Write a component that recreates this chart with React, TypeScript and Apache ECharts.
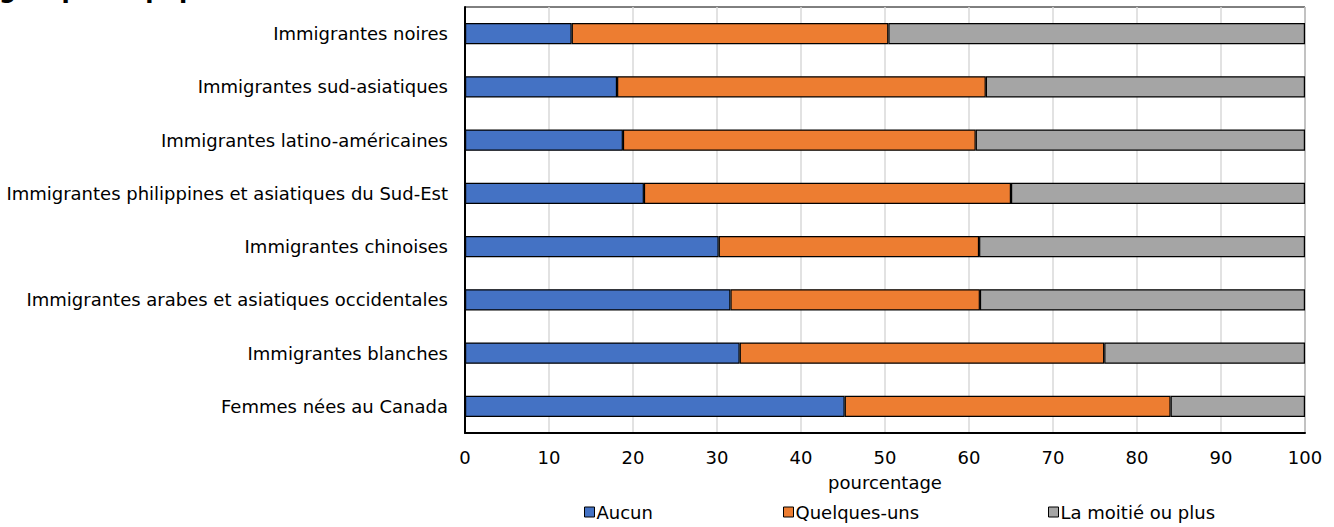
import React, { useEffect, useRef } from "react";
import * as echarts from "echarts";

const categories = [
  "Immigrantes noires",
  "Immigrantes sud-asiatiques",
  "Immigrantes latino-américaines",
  "Immigrantes philippines et asiatiques du Sud-Est",
  "Immigrantes chinoises",
  "Immigrantes arabes et asiatiques occidentales",
  "Immigrantes blanches",
  "Femmes nées au Canada",
];
const aucun = [12.7, 18.1, 18.8, 21.3, 30.2, 31.6, 32.7, 45.2];
const quelques = [37.7, 43.9, 42.0, 43.7, 31.0, 29.7, 43.4, 38.8];
const moitie = [49.6, 38.0, 39.2, 35.0, 38.8, 38.7, 23.9, 16.0];
const seriesNames = ["Aucun", "Quelques-uns", "La moitié ou plus"];
const colors = ["#4472c4", "#ed7d31", "#a5a5a5"];
const titleText = "groupe de population";
const axisName = "pourcentage";

const FONT = "'DejaVu Sans', Verdana, sans-serif";
const FS = 18;
const legendLefts = [579, 778, 1043];

export default function App() {
  const ref = useRef<HTMLDivElement>(null);
  useEffect(() => {
    if (!ref.current) return;
    const chart = echarts.init(ref.current, undefined, { renderer: "svg" });
    const data = [aucun, quelques, moitie];
    chart.setOption({
      animation: false,
      textStyle: { fontFamily: FONT, color: "#000" },
      graphic: [
        {
          type: "text",
          left: -1,
          top: -22,
          style: {
            text: titleText,
            font: `bold 24px ${FONT}`,
            fill: "#000",
          },
        },
      ],
      grid: {
        left: 465,
        right: 29,
        top: 7,
        bottom: 94,
        show: true,
        borderColor: "#000",
        borderWidth: 1,
      },
      legend: seriesNames.map((n, i) => ({
        bottom: 1,
        left: legendLefts[i],
        itemWidth: 10,
        itemHeight: 10,
        icon: "rect",
        selectedMode: false,
        textStyle: { fontSize: FS, fontFamily: FONT, color: "#000", padding: [0, 0, 0, -3] },
        data: [
          {
            name: n,
            itemStyle: { color: colors[i], borderColor: "#000", borderWidth: 1 },
          },
        ],
      })),
      xAxis: {
        type: "value",
        min: 0,
        max: 100,
        interval: 10,
        name: axisName,
        nameLocation: "middle",
        nameGap: 40,
        nameTextStyle: { fontSize: FS, color: "#000", fontFamily: FONT },
        axisLabel: { fontSize: FS, color: "#000", margin: 15, fontFamily: FONT },
        axisLine: { show: true, lineStyle: { color: "#000", width: 2 } },
        axisTick: { show: false },
        splitLine: { show: true, lineStyle: { color: "#d9d9d9", width: 1.5 } },
      },
      yAxis: {
        type: "category",
        inverse: true,
        data: categories,
        axisLabel: { fontSize: FS, color: "#000", margin: 17, fontFamily: FONT },
        axisLine: { show: true, lineStyle: { color: "#000", width: 2 } },
        axisTick: { show: false },
      },
      series: seriesNames.map((n, i) => ({
        name: n,
        type: "bar",
        stack: "total",
        barWidth: "40%",
        data: data[i],
        itemStyle: { color: colors[i], borderColor: "#000", borderWidth: 1.2 },
      })),
    });
    return () => chart.dispose();
  }, []);
  return <div ref={ref} style={{ width: 1334, height: 527, position: "absolute", left: 0, top: 0 }} />;
}
